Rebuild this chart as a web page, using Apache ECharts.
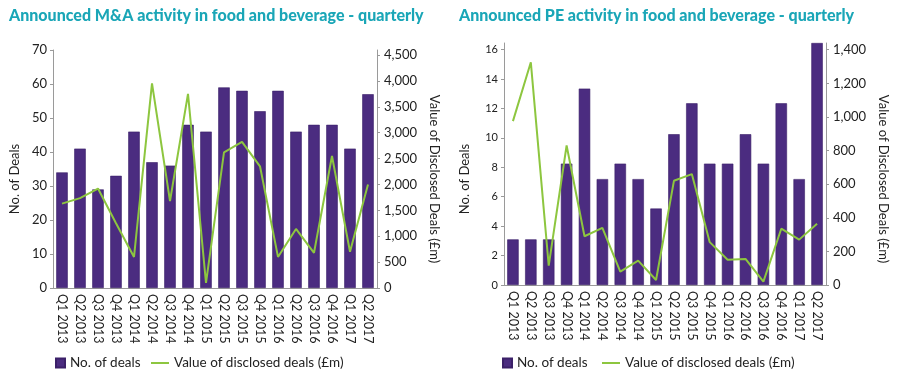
<!DOCTYPE html>
<html>
<head>
<meta charset="utf-8">
<script src="https://cdn.jsdelivr.net/npm/echarts@6/dist/echarts.min.js"></script>
<style>
  html, body { margin: 0; padding: 0; background: #fff; }
  #wrap { width: 900px; height: 370px; position: relative; }
  .c { position: absolute; top: 0; width: 450px; height: 370px; }
</style>
</head>
<body>
<div id="wrap">
  <div id="left" class="c" style="left:0"></div>
  <div id="right" class="c" style="left:450px"></div>
</div>
<script>
const categories = ['Q1 2013','Q2 2013','Q3 2013','Q4 2013','Q1 2014','Q2 2014','Q3 2014','Q4 2014',
  'Q1 2015','Q2 2015','Q3 2015','Q4 2015','Q1 2016','Q2 2016','Q3 2016','Q4 2016','Q1 2017','Q2 2017'];

const maDeals = [34, 41, 29, 33, 46, 37, 36, 48, 46, 59, 58, 52, 58, 46, 48, 48, 41, 57];
const maValue = [1630, 1735, 1920, 1250, 600, 3950, 1680, 3750, 100, 2620, 2820, 2350, 600, 1140, 680, 2550, 700, 2000];

const peDeals = [3.1, 3.1, 3.1, 8.25, 13.35, 7.2, 8.25, 7.2, 5.2, 10.25, 12.35, 8.25, 8.25, 10.25, 8.25, 12.35, 7.2, 16.45];
const peValue = [975, 1325, 115, 830, 290, 340, 80, 145, 30, 620, 660, 255, 150, 155, 20, 335, 270, 365];

const titles = ['Announced M&A activity in food and beverage - quarterly', 'Announced PE activity in food and beverage - quarterly'];
const seriesNames = ['No. of deals', 'Value of disclosed deals (£m)'];
const axisNames = ['No. of Deals', 'Value of Disclosed Deals (£m)'];

const FONT = 'Lato';
const BAR = '#4b2c80';
const LINE = '#8dc63f';
const TEAL = '#1aa6b7';
const TXT = '#222';
const AX = '#9a9a9a';

function fmt(v) { return v.toLocaleString('en-US'); }

function build(o) {
  return {
    animation: false,
    textStyle: { fontFamily: FONT },
    title: {
      text: o.title, left: 4, top: 3,
      textStyle: { fontFamily: FONT, fontWeight: 900, fontSize: 16, color: TEAL }
    },
    legend: [
      { data: [seriesNames[0]], left: o.lg1, top: 351, icon: 'rect', itemWidth: 9, itemHeight: 9, itemGap: 8,
        textStyle: { fontFamily: FONT, fontSize: 13.5, color: TXT }, selectedMode: false },
      { data: [seriesNames[1]], left: o.lg2, top: 351, icon: 'rect', itemWidth: 18, itemHeight: 2,
        textStyle: { fontFamily: FONT, fontSize: 13.5, color: TXT }, selectedMode: false }
    ],
    grid: { left: o.grid[0], right: o.grid[1], top: o.grid[2], bottom: o.grid[3], containLabel: false },
    xAxis: {
      type: 'category', data: categories,
      axisLine: { lineStyle: { color: AX } },
      axisTick: { show: false },
      axisLabel: { interval: 0, rotate: -90, margin: 6, fontFamily: FONT, fontSize: 12.5, color: TXT,
        overflow: 'none', hideOverlap: false,
        formatter: function (v) { return v.replace(/ /g, '\u00a0'); } }
    },
    yAxis: [
      {
        type: 'value', min: 0, max: o.lmax, interval: o.lint,
        name: axisNames[0], nameLocation: 'middle', nameGap: o.lgap, nameRotate: 90,
        nameTextStyle: { fontFamily: FONT, fontSize: 13, color: TXT, padding: [0, o.shift * 2, 0, 0] },
        axisLine: { show: true, lineStyle: { color: AX } },
        axisTick: { show: true, length: 3, lineStyle: { color: AX } },
        splitLine: { show: false },
        axisLabel: { fontFamily: FONT, fontSize: o.lfs, color: TXT, margin: 6, showMaxLabel: o.lshowMax }
      },
      {
        type: 'value', min: 0, max: o.rmax, interval: o.rint,
        name: axisNames[1], nameLocation: 'middle', nameGap: o.rgap, nameRotate: -90,
        nameTextStyle: { fontFamily: FONT, fontSize: 13, color: TXT, padding: [0, 0, 0, o.shift * 2] },
        axisLine: { show: true, lineStyle: { color: AX } },
        axisTick: { show: true, length: 3, lineStyle: { color: AX } },
        splitLine: { show: false },
        axisLabel: { fontFamily: FONT, fontSize: 13, color: TXT, margin: 7, showMaxLabel: false, formatter: fmt }
      }
    ],
    series: [
      { name: seriesNames[0], type: 'bar', data: o.bars, yAxisIndex: 0, barWidth: '64%',
        itemStyle: { color: BAR, borderColor: '#3b2068', borderWidth: 0.6 } },
      { name: seriesNames[1], type: 'line', data: o.line, yAxisIndex: 1, symbol: 'none',
        lineStyle: { color: LINE, width: 2 }, itemStyle: { color: LINE } }
    ]
  };
}

const c1 = echarts.init(document.getElementById('left'), null, { renderer: 'canvas' });
c1.setOption(build({
  title: titles[0], grid: [48, 73, 50, 82],
  lmax: 70, lint: 10, lshowMax: true, lfs: 13, lgap: 32,
  rmax: 4596, rint: 500, rgap: 42, shift: 10,
  bars: maDeals, line: maValue, lg1: 50, lg2: 146
}));

const c2 = echarts.init(document.getElementById('right'), null, { renderer: 'canvas' });
c2.setOption(build({
  title: titles[1], grid: [48, 74, 43, 85],
  lmax: 16.45, lint: 2, lshowMax: false, lfs: 11, lgap: 33,
  rmax: 1440, rint: 200, rgap: 49, shift: 15,
  bars: peDeals, line: peValue, lg1: 47, lg2: 147
}));
</script>
</body>
</html>
